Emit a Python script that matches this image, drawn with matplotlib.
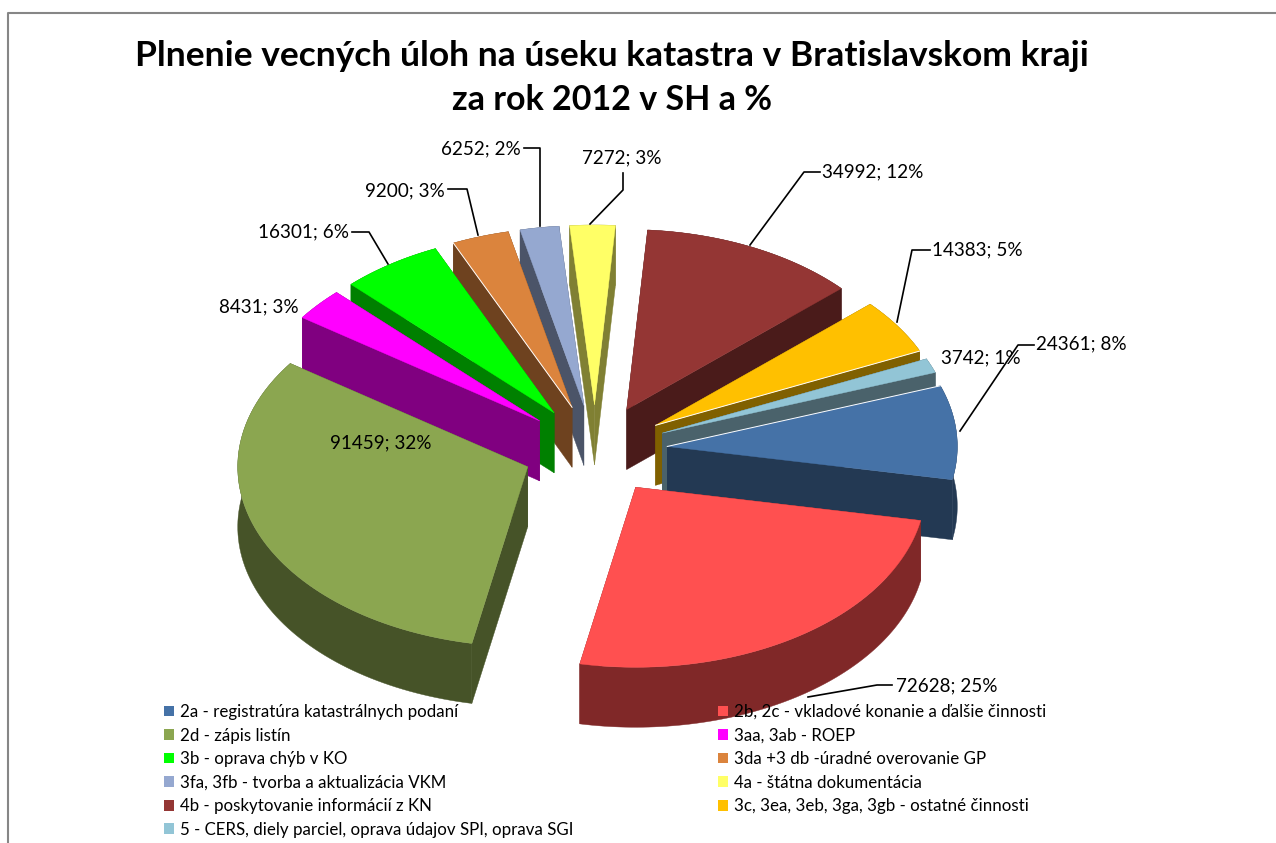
import numpy as np
import matplotlib
matplotlib.use("Agg")
import matplotlib.pyplot as plt
from matplotlib.patches import Polygon, Patch

plt.rcParams['font.family'] = ['Lato', 'DejaVu Sans']

# data
nazvy = ["2a - registratúra katastrálnych podaní",
         "2b, 2c - vkladové konanie a ďalšie činnosti",
         "2d - zápis listín",
         "3aa, 3ab - ROEP",
         "3b - oprava chýb v KO",
         "3da +3 db -úradné overovanie GP",
         "3fa, 3fb - tvorba a aktualizácia VKM",
         "4a - štátna dokumentácia",
         "4b - poskytovanie informácií z KN",
         "3c, 3ea, 3eb, 3ga, 3gb - ostatné činnosti",
         "5 - CERS, diely parciel, oprava údajov SPI, oprava SGI"]
hodnoty = [24361, 72628, 91459, 8431, 16301, 9200, 6252, 7272, 34992, 14383, 3742]
farby = ["#4572A7", "#FF5050", "#8BA650", "#FF00FF", "#00FF00", "#DB843D",
         "#95A8D0", "#FFFF66", "#943634", "#FFC000", "#92C5D6"]
farby_steny = ["#233953", "#802828", "#465328", "#800080", "#008000", "#6E421F",
               "#4B5468", "#808033", "#4A1B1A", "#806000", "#4A626B"]

# label text position and leader line, same order as hodnoty
popisky_xy = [(1081, 344), (947, 686), (381, 443), (259, 307), (304, 232), (405, 191),
              (481, 149), (622, 158), (873, 172), (977, 250), (981, 358)]
vodiace = [[(960, 431), (1018, 345), (1034, 345)],
           [(808, 697), (877, 685), (892, 685)],
           None,
           None,
           [(388, 264), (369, 232), (352, 232)],
           [(478, 235), (467, 189), (448, 189)],
           [(540, 226), (540, 148), (524, 148)],
           [(590, 224), (623, 190), (623, 173)],
           [(750, 245), (804, 172), (820, 172)],
           [(897, 322), (912, 250), (930, 250)],
           None]

# pie geometry in pixels
cx, cy = 595, 450
rx, ry = 290, 180
vysuv = 0.25
vyska = 60
start = -19.7

fig = plt.figure(figsize=(12.76, 8.43), dpi=100)
ax = fig.add_axes([0, 0, 1, 1])
ax.set_xlim(0, 1276)
ax.set_ylim(843, 0)
ax.axis('off')

# chart border, only top and left are inside the picture
ax.plot([8, 8, 1276], [843, 13, 13], color='#868686', lw=1.5)

ax.text(612, 56, "Plnenie vecných úloh na úseku katastra v Bratislavskom kraji",
        fontsize=25.5, fontweight='bold', ha='center', va='center')
ax.text(612, 100, "za rok 2012 v SH a %",
        fontsize=24.5, fontweight='bold', ha='center', va='center')

celkom = sum(hodnoty)
uhly = start + np.cumsum([0] + hodnoty) / celkom * 360

# back slices first
stredy = (uhly[:-1] + uhly[1:]) / 2
poradie = np.argsort(np.sin(np.radians(stredy)))

# thin white highlight on some top edges: slice -> which radial edge
biele_hrany = {0: 0, 5: 0, 9: -1}

for i in poradie:
    t = np.radians(np.linspace(uhly[i], uhly[i + 1], 80))
    m = np.radians(stredy[i])
    ax0 = cx + vysuv * rx * np.cos(m)
    ay0 = cy + vysuv * ry * np.sin(m)
    x = ax0 + rx * np.cos(t)
    y = ay0 + ry * np.sin(t)

    # walls
    okraj = np.column_stack([np.r_[x, x[::-1]], np.r_[y, y[::-1] + vyska]])
    ax.add_patch(Polygon(okraj, fc=farby_steny[i], ec=farby_steny[i], lw=0.3))
    for k in (0, -1):
        stena = [(ax0, ay0), (x[k], y[k]), (x[k], y[k] + vyska), (ax0, ay0 + vyska)]
        ax.add_patch(Polygon(stena, fc=farby_steny[i], ec=farby_steny[i], lw=0.3))

    # top
    vrch = np.column_stack([np.r_[ax0, x], np.r_[ay0, y]])
    ax.add_patch(Polygon(vrch, fc=farby[i], ec=farby[i], lw=0.3))
    if i in biele_hrany:
        k = biele_hrany[i]
        ax.plot([ax0, x[k]], [ay0, y[k]], color='white', lw=0.7)

for i in range(len(hodnoty)):
    if vodiace[i]:
        ax.plot(*zip(*vodiace[i]), color='black', lw=1.2)
    ax.text(popisky_xy[i][0], popisky_xy[i][1],
            "%d; %d%%" % (hodnoty[i], round(hodnoty[i] / celkom * 100)),
            fontsize=13.6, ha='center', va='center')

# legend reads row by row, matplotlib fills column by column
ind = list(range(0, 11, 2)) + list(range(1, 11, 2))
handles = [Patch(fc=farby[i], ec='none', label=nazvy[i]) for i in ind]
ax.legend(handles=handles, ncols=2, frameon=False, fontsize=12.2,
          loc='upper left', bbox_to_anchor=(164, 704), bbox_transform=ax.transData,
          borderpad=0, borderaxespad=0, handlelength=0.6, handleheight=0.6,
          handletextpad=0.35, labelspacing=0.445, columnspacing=8.5)

plt.savefig("out.png", dpi=100)
